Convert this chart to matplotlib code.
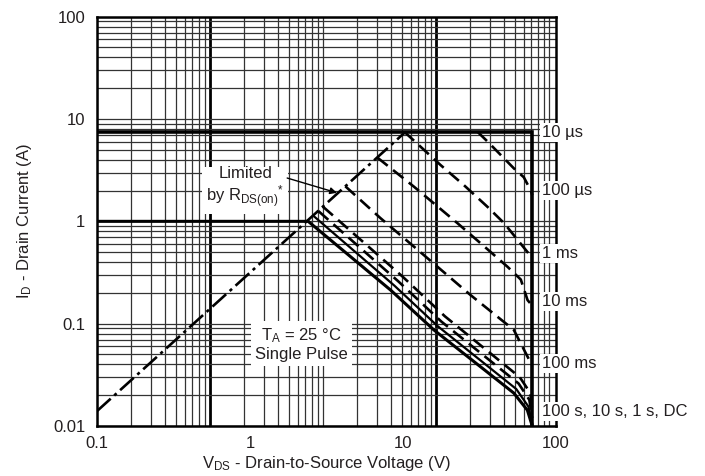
import numpy as np
import matplotlib.pyplot as plt
from matplotlib.ticker import LogLocator, FixedLocator, NullFormatter, FixedFormatter

plt.rcParams['font.family'] = ['Liberation Sans', 'DejaVu Sans']
plt.rcParams['mathtext.default'] = 'regular'

# safe operating area (V, A)
rds_v = [0.1, 10.4]
rds_i = [0.014, 7.5]

idm_v = [0.1, 70, 70]
idm_i = [7.5, 7.5, 0.01]

us100_v = [30.7, 35.8, 53, 61.6, 68.5, 70]
us100_i = [7.5, 6.0, 3.3, 2.7, 2.0, 1.8]

ms1_v = [10.2, 17.6, 25.0, 35.6, 45.8, 65.2, 70]
ms1_i = [7.5, 3.55, 2.26, 1.39, 0.96, 0.5, 0.44]

ms10_v = [6.8, 11.8, 22.7, 37.5, 48.2, 58.9, 65.2, 70]
ms10_i = [4.2, 2.18, 0.96, 0.5, 0.36, 0.27, 0.17, 0.15]

ms100_v = [4.2, 7.1, 13, 27.7, 53, 65.5, 70]
ms100_i = [2.2, 1.08, 0.5, 0.19, 0.087, 0.047, 0.039]

dc_v = [0.1, 2.4, 8.3, 15.9, 53, 65, 70]
dc_i = [1.0, 1.0, 0.213, 0.087, 0.021, 0.0143, 0.01]

s1_v = [2.6, 8.8, 16.8, 55, 66, 70]
s1_i = [1.13, 0.235, 0.095, 0.023, 0.0155, 0.0105]

s10_v = [2.8, 9.3, 17.8, 57, 67, 70]
s10_i = [1.26, 0.26, 0.105, 0.026, 0.018, 0.012]

s100_v = [3.0, 9.9, 18.8, 58, 68, 70]
s100_i = [1.39, 0.29, 0.118, 0.03, 0.021, 0.014]

# labels at the right edge
pulse_labels = ['10 µs', '100 µs', '1 ms', '10 ms', '100 ms', '100 s, 10 s, 1 s, DC']
pulse_label_i = [7.3, 2.02, 0.49, 0.164, 0.041, 0.0139]

x_ticks = [0.1, 1, 10, 100]
x_ticklabels = ['0.1', '1', '10', '100']
y_ticks = [0.01, 0.1, 1, 10, 100]
y_ticklabels = ['0.01', '0.1', '1', '10', '100']

txt = '#231f20'
gridc = '#333333'

fig = plt.figure(figsize=(7.05, 4.76), dpi=100)
ax = fig.add_axes([0.1376, 0.105, 0.651, 0.86])

# the printed grid does not follow the x labels: own log scale, ~113 px per decade
gx = ax.twiny()
gx.set_xscale('log')
gx.set_xlim(1, 10 ** (459 / 113))
gx.xaxis.set_major_locator(FixedLocator([10, 1000]))
gx.xaxis.set_minor_locator(LogLocator(base=10, subs=np.arange(1, 10), numticks=60))
gx.xaxis.set_major_formatter(NullFormatter())
gx.xaxis.set_minor_formatter(NullFormatter())
gx.tick_params(axis='x', which='both', length=0, labeltop=False)
gx.grid(which='major', axis='x', color='black', lw=2.0)
gx.grid(which='minor', axis='x', color=gridc, lw=0.9)
for s in gx.spines.values():
    s.set_visible(False)

ax.set_zorder(gx.get_zorder() + 1)
ax.patch.set_visible(False)

ax.set_xscale('log')
ax.set_yscale('log')
ax.set_xlim(0.1, 100)
ax.set_ylim(0.01, 100)
ax.xaxis.set_major_locator(FixedLocator(x_ticks))
ax.xaxis.set_major_formatter(FixedFormatter(x_ticklabels))
ax.xaxis.set_minor_locator(FixedLocator([]))
ax.yaxis.set_major_locator(FixedLocator(y_ticks))
ax.yaxis.set_major_formatter(FixedFormatter(y_ticklabels))
ax.yaxis.set_minor_locator(LogLocator(base=10, subs=np.arange(2, 10), numticks=60))
ax.yaxis.set_minor_formatter(NullFormatter())
ax.grid(which='both', axis='y', color=gridc, lw=0.9)
ax.tick_params(axis='both', which='both', length=0, labelsize=12, labelcolor=txt)
ax.tick_params(axis='x', pad=7)
ax.tick_params(axis='y', pad=8.5)
for s in ax.spines.values():
    s.set_linewidth(1.8)
    s.set_color('black')

dash = (5, 2.6)
ax.plot(rds_v, rds_i, color='black', lw=1.9, dashes=(7, 1.8, 1.2, 1.8))
ax.plot(idm_v, idm_i, color='black', lw=2.6, solid_joinstyle='miter')
ax.plot(us100_v, us100_i, color='black', lw=1.9, dashes=dash)
ax.plot(ms1_v, ms1_i, color='black', lw=1.9, dashes=dash)
ax.plot(ms10_v, ms10_i, color='black', lw=1.9, dashes=dash)
ax.plot(ms100_v, ms100_i, color='black', lw=1.9, dashes=dash)
ax.plot(dc_v, dc_i, color='black', lw=2.2)
ax.plot(s1_v, s1_i, color='black', lw=1.6)
ax.plot(s10_v, s10_i, color='black', lw=1.9, dashes=dash)
ax.plot(s100_v, s100_i, color='black', lw=1.9, dashes=dash)

box = dict(facecolor='white', edgecolor='none', pad=1.5)
for lab, yi in zip(pulse_labels, pulse_label_i):
    ax.text(81, yi, lab, ha='left', va='center', fontsize=12, color=txt,
            bbox=box, zorder=5)

ax.text(0.93, 2.11, 'Limited\nby R$_{DS(on)}$$^{*}$', ha='center', va='center',
        fontsize=12, color=txt, linespacing=1.15,
        bbox=dict(facecolor='white', edgecolor='none', pad=3), zorder=5)
ax.annotate('', xy=(3.7, 1.9), xytext=(1.75, 2.65),
            arrowprops=dict(arrowstyle='-|>', lw=1.0, color='black',
                            mutation_scale=10, shrinkA=0, shrinkB=0), zorder=6)

ax.text(2.18, 0.063, 'T$_A$ = 25 °C\nSingle Pulse', ha='center', va='center',
        fontsize=12, color=txt, linespacing=1.15,
        bbox=dict(facecolor='white', edgecolor='none', pad=3), zorder=5)

ax.set_xlabel('V$_{DS}$ - Drain-to-Source Voltage (V)', fontsize=12, color=txt, labelpad=2)
ax.set_ylabel('I$_D$ - Drain Current (A)', fontsize=12, color=txt, labelpad=14)

fig.savefig('out.png', dpi=100)
